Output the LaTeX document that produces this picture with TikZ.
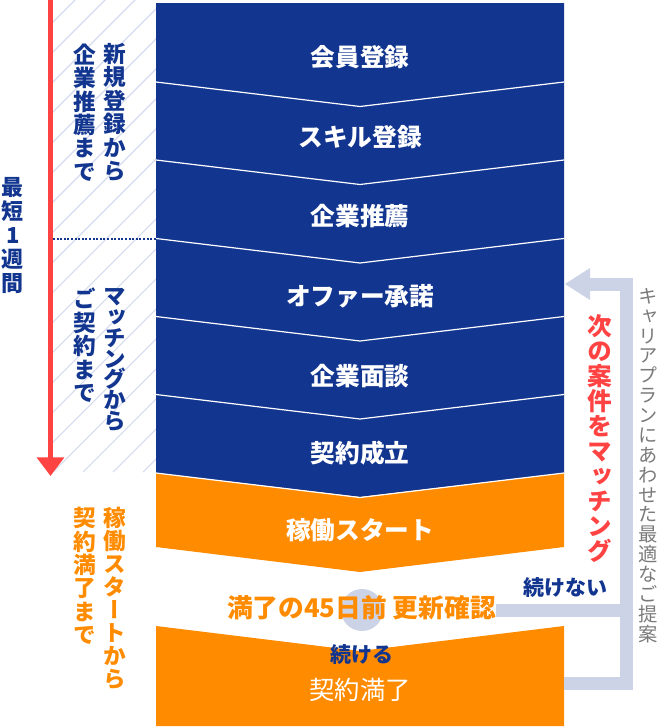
\documentclass[tikz,border=0pt]{standalone}
\usepackage{fontspec}
\setmainfont{Noto Sans CJK JP}
\newfontfamily\vjp[RawFeature=+vert]{Noto Sans CJK JP}
\usetikzlibrary{arrows.meta}
\definecolor{navy}{HTML}{12358F}
\definecolor{orng}{HTML}{FF8B00}
\definecolor{redc}{HTML}{FF4343}
\definecolor{pale}{HTML}{CDD3E7}
\definecolor{hatch}{HTML}{D5DBEE}
\definecolor{greyt}{HTML}{7A7A7A}
\newcommand\myvls{\lineskiplimit-50pt\relax}
\begin{document}
\begin{tikzpicture}[x=0.75pt,y=-0.75pt,
  boxlabel/.style={inner sep=0, text=white, font=\bfseries\fontsize{18.5pt}{20pt}\selectfont},
  vcol/.style={inner sep=0, align=center},
  conn/.style={draw=pale, line width=9.75pt},
]
\useasboundingbox (0,0) rectangle (661,728);
% hatched column
\begin{scope}
  \clip (53,0) rectangle (156,472);
  \foreach \i in {-17,...,4}
    \draw[hatch, line width=0.8pt] (53+30*\i,472) -- (53+30*\i+520,-48);
\end{scope}
\draw[navy, line width=0.8pt, dash pattern=on 1.5pt off 1.2pt] (53,239) -- (156,239);
% red arrow
\coordinate (rtop) at (50.5,0);
\coordinate (rbot) at (50.5,476);
\draw[redc, line width=3.75pt, -{Triangle[width=20pt,length=14pt]}] (rtop) -- (rbot);
% blue blocks
\fill[navy] (156,3) -- (564,3) -- (564,473) -- (360,497) -- (156,473) -- cycle;
\foreach \b in {82,160,238.5,316.5,394.5}
  \draw[white, line width=0.9pt] (156,\b) -- (360,\b+24.5) -- (564,\b);
% orange blocks
\fill[orng] (156,473) -- (360,497) -- (564,473) -- (564,547) -- (360,572) -- (156,547) -- cycle;
\draw[white, line width=0.9pt] (156,473) -- (360,497.5) -- (564,473);
\fill[orng] (156,626) -- (360,651) -- (564,626) -- (564,726) -- (156,726) -- cycle;
% labels in blocks
\node[boxlabel] (s1) at (360,57) {会員登録};
\node[boxlabel] (s2) at (360,137) {スキル登録};
\node[boxlabel] (s3) at (360,216) {企業推薦};
\node[boxlabel] (s4) at (360,296) {オファー承諾};
\node[boxlabel] (s5) at (360,376) {企業面談};
\node[boxlabel] (s6) at (360,453) {契約成立};
\node[boxlabel] (s7) at (360,530) {稼働スタート};
\node[inner sep=0, text=white, font=\fontsize{19pt}{20pt}\selectfont] (s9) at (360,690) {契約満了};
% renewal check
\node[circle, fill=pale, minimum size=31.5pt, inner sep=0] (circ) at (362,610) {};
\node[inner sep=0, text=orng, font=\bfseries\fontsize{19.3pt}{20pt}\selectfont] (renew) at (361.5,608) {満了の45日前 更新確認};
\node[inner sep=0, text=navy, font=\bfseries\fontsize{15.75pt}{18pt}\selectfont] (yes) at (362,655) {続ける};
\node[inner sep=0, text=navy, font=\bfseries\fontsize{15.75pt}{18pt}\selectfont] (no) at (565,588) {続けない};
% connectors
\coordinate (vb) at (626,610);
\coordinate (topj) at (626,284);
\coordinate (s4in) at (565,284);
\coordinate (s9out) at (564,683);
\draw[conn] (renew.east |- vb) -- (vb);
\draw[conn] (s9out) -- (s9out -| vb) -- (topj) -- (590,284);
\fill[pale] (s4in) -- (590,268) -- (590,300) -- cycle;
% vertical texts
\node[vcol, text=navy, font={\vjp\bfseries\fontsize{17pt}{17.55pt}\selectfont\myvls}] (t1a) at (115,112.5) {新\\規\\登\\録\\か\\ら};
\node[vcol, text=navy, font={\vjp\bfseries\fontsize{17pt}{17.55pt}\selectfont\myvls}] (t1b) at (85,112.5) {企\\業\\推\\薦\\ま\\で};
\node[vcol, text=navy, font={\vjp\bfseries\fontsize{16.5pt}{18pt}\selectfont\myvls}] (short) at (13,235.5) {最\\短\\1\\週\\間};
\node[vcol, text=navy, font={\vjp\bfseries\fontsize{17pt}{15.6pt}\selectfont\myvls}] (t2a) at (115,360) {マ\\ッ\\チ\\ン\\グ\\か\\ら};
\node[vcol, text=navy, font={\vjp\bfseries\fontsize{17pt}{17.6pt}\selectfont\myvls}] (t2b) at (85,345.5) {ご\\契\\約\\ま\\で};
\node[vcol, text=orng, font={\vjp\bfseries\fontsize{17pt}{17.3pt}\selectfont\myvls}] (t3a) at (115,598.5) {稼\\働\\ス\\タ\\ー\\ト\\か\\ら};
\node[vcol, text=orng, font={\vjp\bfseries\fontsize{17pt}{17.55pt}\selectfont\myvls}] (t3b) at (85,576) {契\\約\\満\\了\\ま\\で};
\node[vcol, text=redc, font={\vjp\bfseries\fontsize{18.5pt}{18.75pt}\selectfont\myvls}] (next) at (600,439) {次\\の\\案\\件\\を\\マ\\ッ\\チ\\ン\\グ};
\node[vcol, text=greyt, font={\vjp\fontsize{14.5pt}{14.9pt}\selectfont\myvls}] (plan) at (648,465.5) {キ\\ャ\\リ\\ア\\プ\\ラ\\ン\\に\\あ\\わ\\せ\\た\\最\\適\\な\\ご\\提\\案};
\end{tikzpicture}
\end{document}
